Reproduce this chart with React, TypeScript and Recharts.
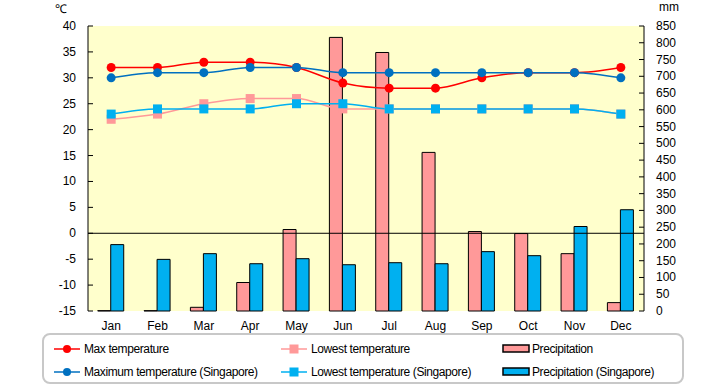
import { Bar, ComposedChart, CartesianGrid, Line, ReferenceLine, XAxis, YAxis } from "recharts"

const months = ["Jan", "Feb", "Mar", "Apr", "May", "Jun", "Jul", "Aug", "Sep", "Oct", "Nov", "Dec"]
const maxTemp = [32, 32, 33, 33, 32, 29, 28, 28, 30, 31, 31, 32]
const minTemp = [22, 23, 25, 26, 26, 24, 24, 24, 24, 24, 24, 23]
const sgMaxTemp = [30, 31, 31, 32, 32, 31, 31, 31, 31, 31, 31, 30]
const sgMinTemp = [23, 24, 24, 24, 25, 25, 24, 24, 24, 24, 24, 23]
const rain = [1, 1, 11, 85, 243, 816, 771, 473, 237, 231, 171, 25]
const sgRain = [198, 154, 171, 141, 156, 138, 144, 141, 177, 165, 252, 302]

const tempTicks = [-15, -10, -5, 0, 5, 10, 15, 20, 25, 30, 35, 40]
const rainTicks = [0, 50, 100, 150, 200, 250, 300, 350, 400, 450, 500, 550, 600, 650, 700, 750, 800, 850]

const FONT = "'Liberation Sans', Arial, sans-serif"

const chartData = months.map((m, i) => ({
  month: m,
  maxTemp: maxTemp[i],
  minTemp: minTemp[i],
  sgMaxTemp: sgMaxTemp[i],
  sgMinTemp: sgMinTemp[i],
  rain: rain[i],
  sgRain: sgRain[i],
}))

const squareDot = (color: string) => (props: any) => {
  const { cx, cy, index } = props
  if (cx == null || cy == null) return <g key={`sq-${index}`} />
  return <rect key={`sq-${index}`} x={cx - 4.5} y={cy - 4.5} width={9} height={9} fill={color} />
}

// left axis: labels outside, tick marks pointing into the plot
const LeftTick = (props: any) => {
  const { x, y, payload } = props
  return (
    <g>
      <line x1={x + 6} x2={x + 11} y1={y} y2={y} stroke="#000" />
      <text x={x - 6} y={y} dy={4} textAnchor="end" fontSize={12} fontFamily={FONT} fill="#000">
        {payload.value}
      </text>
    </g>
  )
}

const RightTick = (props: any) => {
  const { x, y, payload } = props
  return (
    <g>
      <line x1={x - 6} x2={x - 11} y1={y} y2={y} stroke="#000" />
      <text x={x + 6} y={y} dy={4} textAnchor="start" fontSize={12} fontFamily={FONT} fill="#000">
        {payload.value}
      </text>
    </g>
  )
}

const legendItems = [
  { label: "Max temperature", color: "#FF0000", kind: "circle", col: 0, row: 0 },
  { label: "Lowest temperature", color: "#FF9999", kind: "square", col: 1, row: 0 },
  { label: "Precipitation", color: "#FF9999", kind: "bar", col: 2, row: 0 },
  { label: "Maximum temperature (Singapore)", color: "#0070C0", kind: "circle", col: 0, row: 1 },
  { label: "Lowest temperature (Singapore)", color: "#00B0F0", kind: "square", col: 1, row: 1 },
  { label: "Precipitation (Singapore)", color: "#00B0F0", kind: "bar", col: 2, row: 1 },
]
const legendCols = [10, 237, 458]

function LegendIcon({ kind, color }: { kind: string; color: string }) {
  if (kind === "bar") {
    return (
      <svg width={30} height={12}>
        <rect x={1} y={2} width={26} height={7} fill={color} stroke="#000" strokeWidth={1.5} />
      </svg>
    )
  }
  return (
    <svg width={30} height={12}>
      <line x1={0} x2={26} y1={6} y2={6} stroke={color} strokeWidth={1.5} />
      {kind === "circle" ? (
        <circle cx={13} cy={6} r={4} fill={color} />
      ) : (
        <rect x={8.5} y={1.5} width={9} height={9} fill={color} />
      )}
    </svg>
  )
}

export default function App() {
  return (
    <div style={{ position: "absolute", left: 0, top: 0, width: 720, height: 385, background: "#fff", fontFamily: FONT }}>
      <div style={{ position: "absolute", left: 55, top: 0, fontSize: 12 }}>℃</div>
      <div style={{ position: "absolute", left: 659, top: 0, fontSize: 12 }}>mm</div>
      <ComposedChart
        width={720}
        height={385}
        data={chartData}
        margin={{ top: 26, right: 26, left: 38, bottom: 54 }}
        barCategoryGap="21%"
        barGap={0}
      >
        <CartesianGrid fill="#FFFFCC" horizontal={false} vertical={false} />
        <XAxis
          dataKey="month"
          axisLine={false}
          tickLine={false}
          height={20}
          tickMargin={4}
          tick={{ fontSize: 12, fontFamily: FONT, fill: "#000" }}
          interval={0}
        />
        <YAxis
          yAxisId="left"
          orientation="left"
          width={50}
          domain={[-15, 40]}
          ticks={tempTicks}
          interval={0}
          tickSize={0}
          tickMargin={6}
          tickLine={false}
          axisLine={{ stroke: "#000" }}
          tick={<LeftTick />}
        />
        <YAxis
          yAxisId="right"
          orientation="right"
          width={50}
          domain={[0, 850]}
          ticks={rainTicks}
          interval={0}
          tickSize={0}
          tickMargin={6}
          tickLine={false}
          axisLine={{ stroke: "#000" }}
          tick={<RightTick />}
        />
        <Bar yAxisId="right" dataKey="rain" fill="#FF9999" stroke="#000" strokeWidth={1} isAnimationActive={false} />
        <Bar yAxisId="right" dataKey="sgRain" fill="#00B0F0" stroke="#000" strokeWidth={1} isAnimationActive={false} />
        <ReferenceLine yAxisId="left" y={0} stroke="#000" strokeWidth={1} />
        <Line
          yAxisId="left"
          type="monotone"
          dataKey="maxTemp"
          stroke="#FF0000"
          strokeWidth={1.5}
          dot={{ r: 4.5, fill: "#FF0000", stroke: "none" }}
          isAnimationActive={false}
        />
        <Line
          yAxisId="left"
          type="monotone"
          dataKey="minTemp"
          stroke="#FF9999"
          strokeWidth={1.5}
          dot={squareDot("#FF9999")}
          isAnimationActive={false}
        />
        <Line
          yAxisId="left"
          type="monotone"
          dataKey="sgMaxTemp"
          stroke="#0070C0"
          strokeWidth={1.5}
          dot={{ r: 4.5, fill: "#0070C0", stroke: "none" }}
          isAnimationActive={false}
        />
        <Line
          yAxisId="left"
          type="monotone"
          dataKey="sgMinTemp"
          stroke="#00B0F0"
          strokeWidth={1.5}
          dot={squareDot("#00B0F0")}
          isAnimationActive={false}
        />
      </ComposedChart>
      <div
        style={{
          position: "absolute",
          left: 42,
          top: 333,
          width: 638,
          height: 47,
          border: "2px solid #c8c8c8",
          borderRadius: 8,
        }}
      >
        {legendItems.map((item) => (
          <div
            key={item.label}
            style={{
              position: "absolute",
              left: legendCols[item.col],
              top: item.row === 0 ? 7 : 30,
              display: "flex",
              alignItems: "center",
              fontSize: 12,
              letterSpacing: -0.4,
              whiteSpace: "nowrap",
            }}
          >
            <LegendIcon kind={item.kind} color={item.color} />
            <span>{item.label}</span>
          </div>
        ))}
      </div>
    </div>
  )
}
